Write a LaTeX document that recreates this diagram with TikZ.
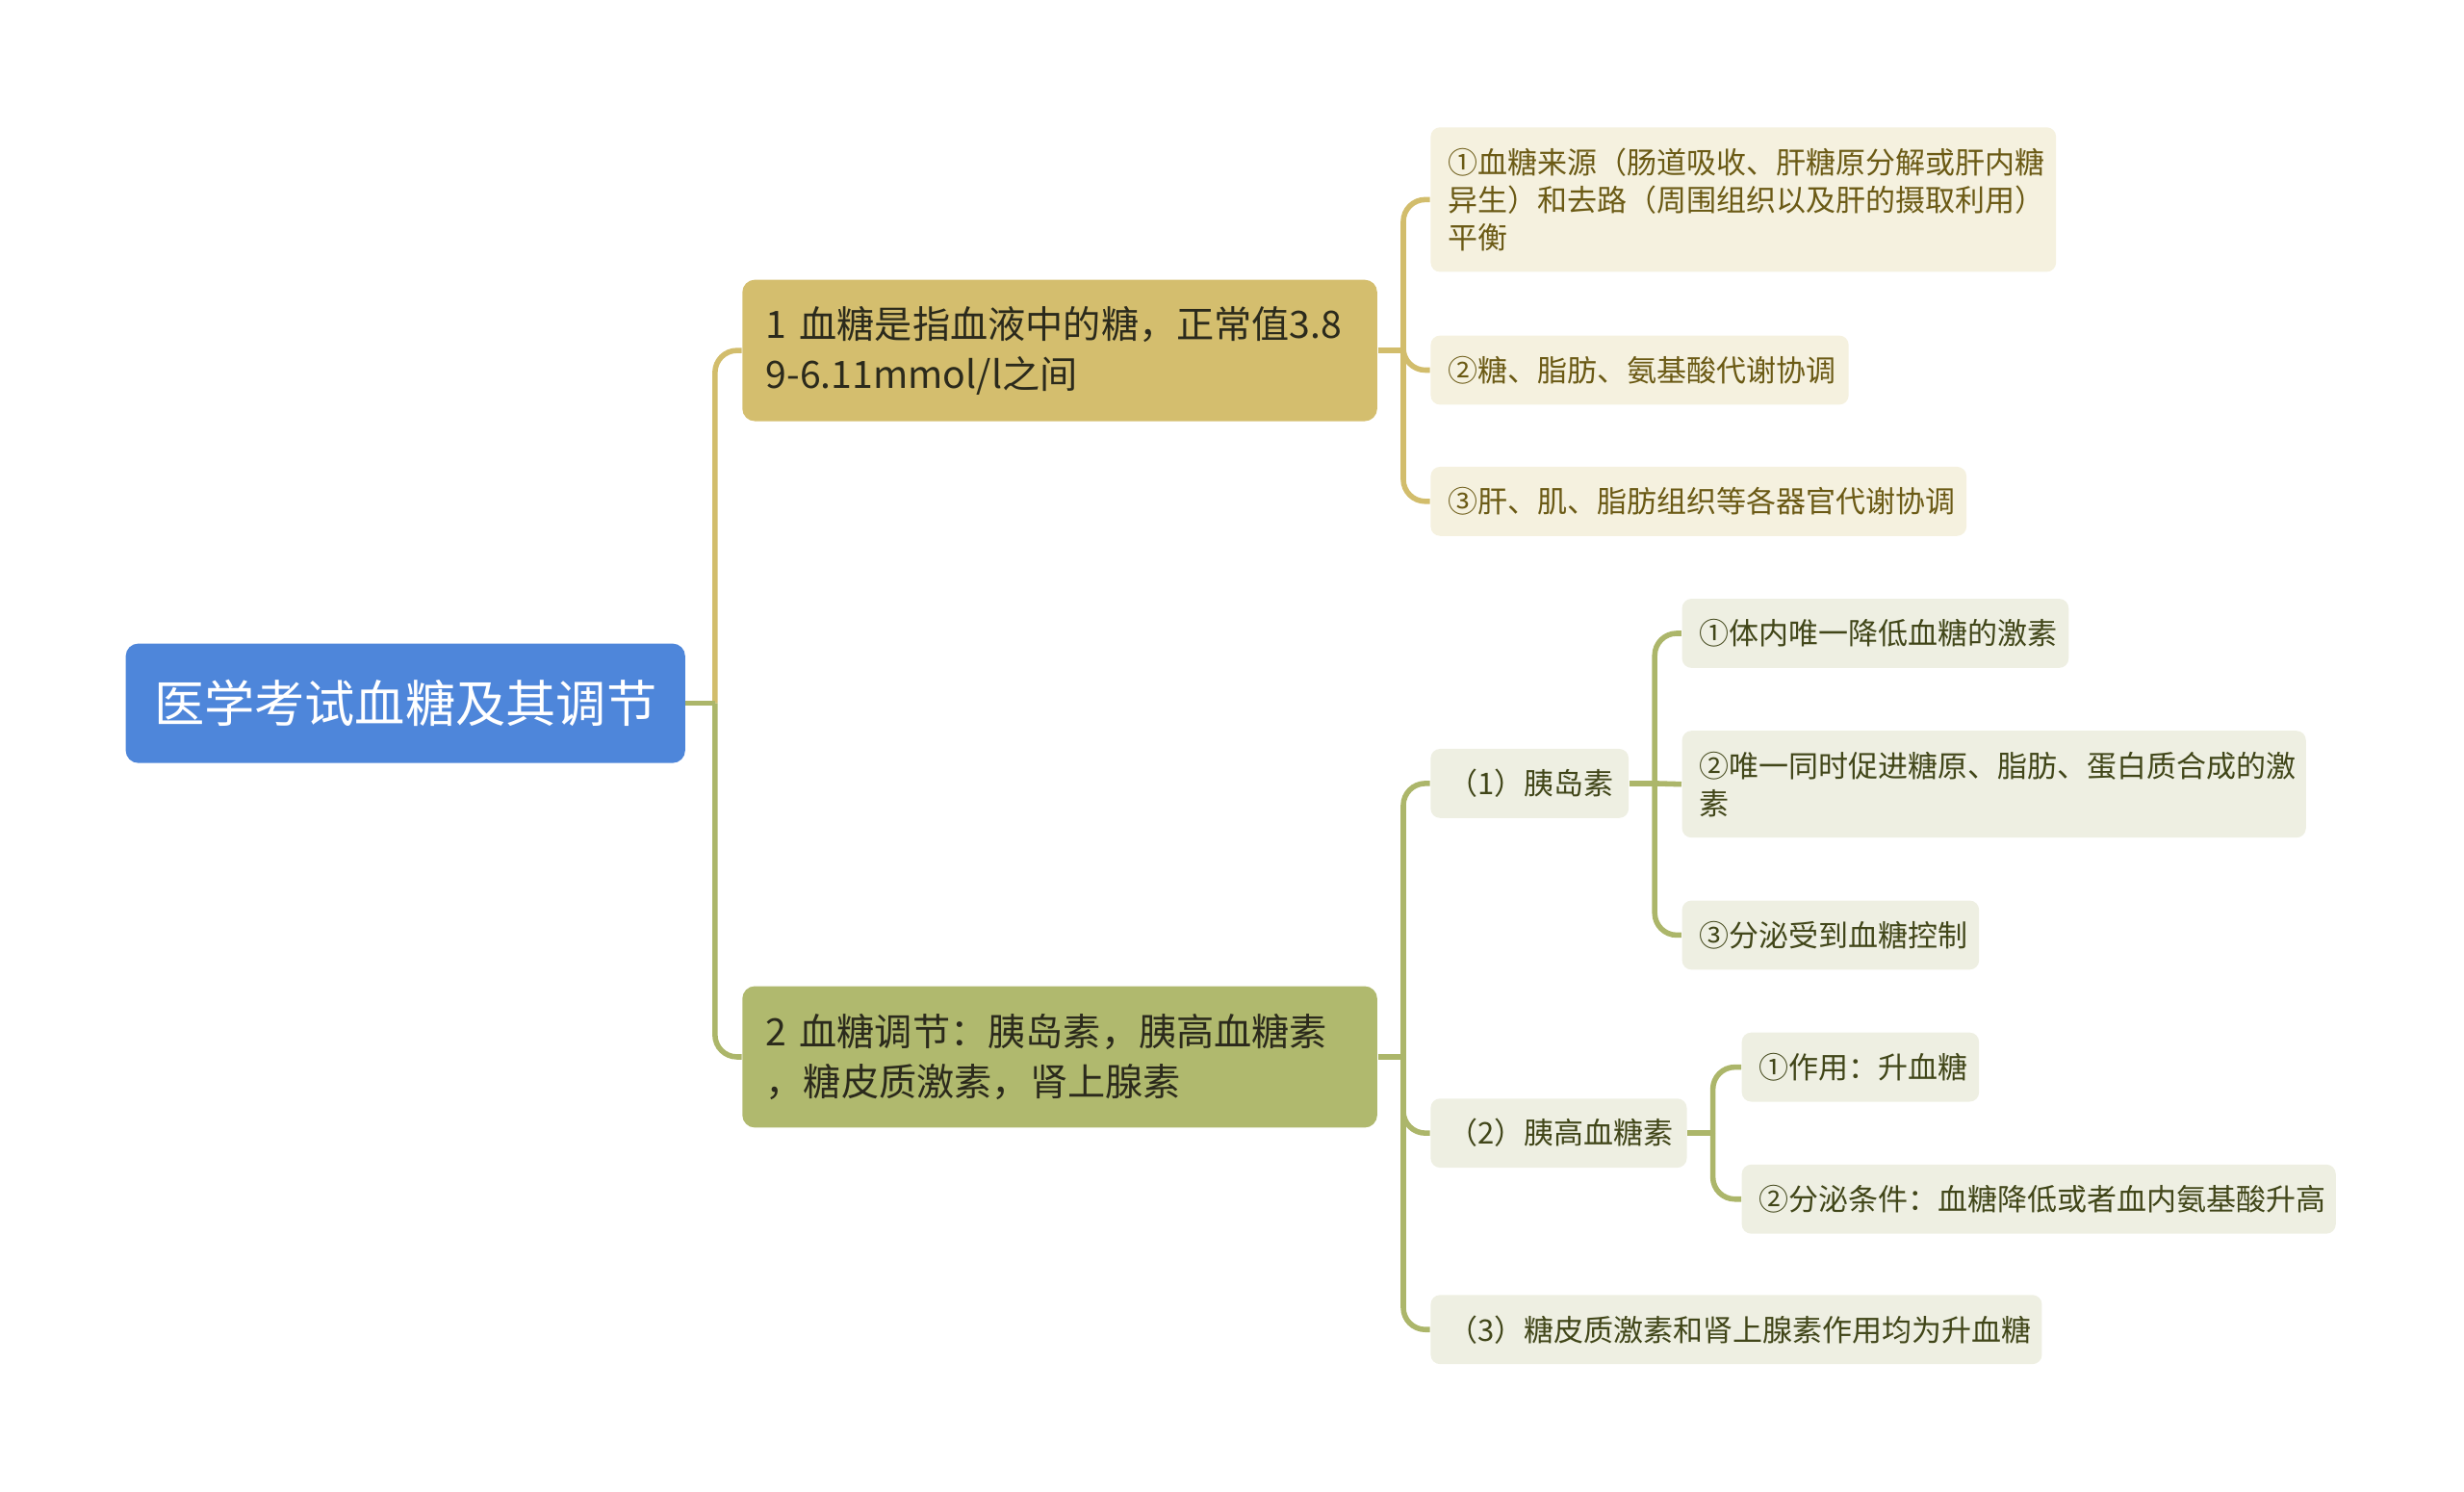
\documentclass[tikz,border=0pt]{standalone}
\usepackage{fontspec}
\setmainfont{Noto Sans CJK SC}
\definecolor{colRoot}{HTML}{4E86DA}
\definecolor{colGold}{HTML}{D4BE6E}
\definecolor{colOlive}{HTML}{B0B96E}
\definecolor{colGoldLn}{HTML}{D2BD6C}
\definecolor{colOliveLn}{HTML}{ACB66A}
\definecolor{colCream}{HTML}{F5F1DF}
\definecolor{colPale}{HTML}{EEEFE2}
\definecolor{colBrownTxt}{HTML}{6B5A15}
\definecolor{colOliveTxt}{HTML}{414619}
\definecolor{colDarkTxt}{HTML}{2B2A1C}
\tikzset{
  rootbox/.style={fill=colRoot, rounded corners=4pt, text=white,
    font=\fontsize{16}{20}\selectfont, minimum width=178pt, minimum height=38pt, inner sep=0pt},
  lvlone/.style={rounded corners=4pt, font=\fontsize{12}{16}\selectfont, text=colDarkTxt,
    inner xsep=7.5pt, inner ysep=0pt, text width=187pt, align=left, minimum height=45pt, anchor=west},
  goldbox/.style={lvlone, fill=colGold},
  olivebox/.style={lvlone, fill=colOlive},
  leaf/.style={rounded corners=3pt, font=\fontsize{9.5}{12}\selectfont, inner xsep=5.5pt,
    inner ysep=0pt, align=left, minimum height=22pt, anchor=west},
  goldleaf/.style={leaf, fill=colCream, text=colBrownTxt},
  oliveleaf/.style={leaf, fill=colPale, text=colOliveTxt},
  lnGold/.style={draw=colGoldLn, line width=1.7pt},
  lnOlive/.style={draw=colOliveLn, line width=1.7pt},
  roundbend/.style={rounded corners=7pt}
}
\begin{document}
\begin{tikzpicture}[x=0.5pt, y=-0.5pt]
\useasboundingbox (0,0) rectangle (1568,949);
% nodes
\node[rootbox] (root) at (258,447.5) {医学考试血糖及其调节};
\node[goldbox] (n1) at (472,223) {1 血糖是指血液中的糖，正常值3.8\\9-6.11mmol/l之间};
\node[olivebox] (n2) at (472,672.5) {2 血糖调节：胰岛素，胰高血糖素\\，糖皮质激素，肾上腺素};

\node[goldleaf, text width=188pt, minimum height=46pt] (c11) at (910,127)
  {①血糖来源（肠道吸收、肝糖原分解或肝内糖\\异生）和去路（周围组织以及肝的摄取利用）\\平衡};
\node[goldleaf, text width=122pt] (c12) at (910,235.5) {②糖、脂肪、氨基酸代谢协调};
\node[goldleaf, text width=159.5pt] (c13) at (910,319) {③肝、肌、脂肪组织等各器官代谢协调};

\node[oliveleaf, text width=52pt] (c21) at (910,498.5) {（1）胰岛素};
\node[oliveleaf, text width=70.5pt] (c22) at (910,721) {（2）胰高血糖素};
\node[oliveleaf, text width=183.5pt] (c23) at (910,846) {（3）糖皮质激素和肾上腺素作用均为升血糖};

\node[oliveleaf, text width=112pt] (c211) at (1070,403) {①体内唯一降低血糖的激素};
\node[oliveleaf, text width=187.5pt, minimum height=34pt] (c212) at (1070,499)
  {②唯一同时促进糖原、脂肪、蛋白质合成的激\\素};
\node[oliveleaf, text width=83.5pt] (c213) at (1070,595) {③分泌受到血糖控制};

\node[oliveleaf, text width=64.5pt] (c221) at (1108,679) {①作用：升血糖};
\node[oliveleaf, text width=178pt] (c222) at (1108,763) {②分泌条件：血糖降低或者血内氨基酸升高};

% junctions
\coordinate (j0) at (455,447.5);
\coordinate (j1) at (893,223);
\coordinate (j2) at (893,672.5);
\coordinate (j21) at (1053,498.5);
\coordinate (j22) at (1090,721);

% connectors
\draw[lnGold, roundbend] (j0) |- (n1.west);
\draw[lnOlive] (root.east) -- (j0);
\draw[lnOlive, roundbend] (j0) |- (n2.west);

\draw[lnGold] (n1.east) -- (j1);
\draw[lnGold, roundbend] (j1) |- (c11.west);
\draw[lnGold, roundbend] (j1) |- (c12.west);
\draw[lnGold, roundbend] (j1) |- (c13.west);

\draw[lnOlive] (n2.east) -- (j2);
\draw[lnOlive, roundbend] (j2) |- (c21.west);
\draw[lnOlive, roundbend] (j2) |- (c22.west);
\draw[lnOlive, roundbend] (j2) |- (c23.west);

\draw[lnOlive] (c21.east) -- (j21);
\draw[lnOlive, roundbend] (j21) |- (c211.west);
\draw[lnOlive] (j21) -- (c212.west);
\draw[lnOlive, roundbend] (j21) |- (c213.west);

\draw[lnOlive] (c22.east) -- (j22);
\draw[lnOlive, roundbend] (j22) |- (c221.west);
\draw[lnOlive, roundbend] (j22) |- (c222.west);
\end{tikzpicture}
\end{document}
